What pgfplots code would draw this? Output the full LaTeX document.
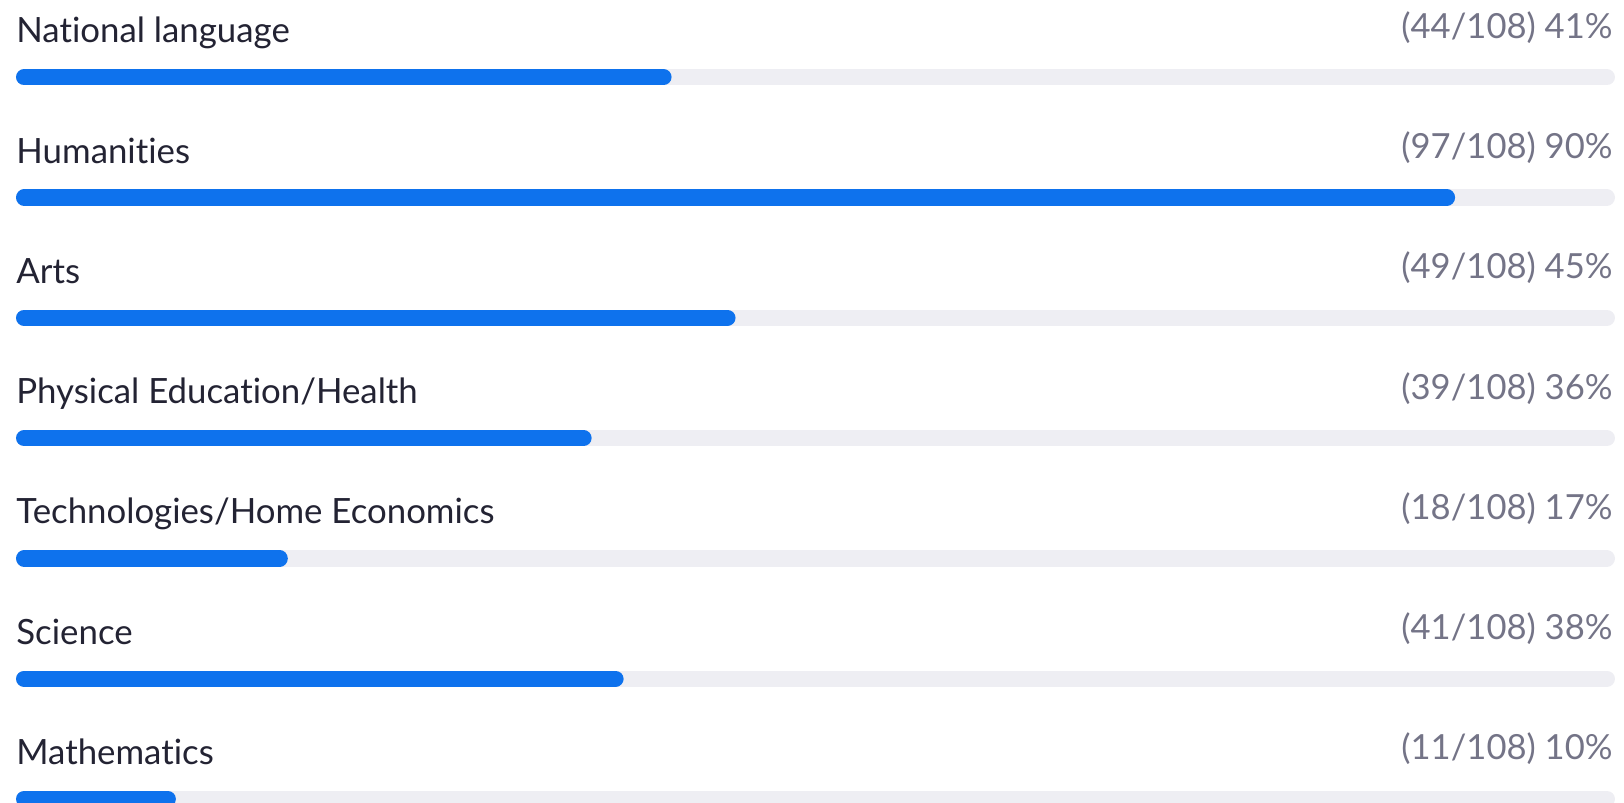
\documentclass[border=0pt]{standalone}
\usepackage{pgfplots}
\usepackage{pgfplotstable}
\pgfplotsset{compat=1.18}
\usepackage{fontspec}
\setmainfont[Ligatures={NoCommon}]{Lato}
\definecolor{zblue}{HTML}{0E72ED}
\definecolor{ztrack}{HTML}{EEEEF3}
\definecolor{zlabel}{HTML}{232333}
\definecolor{zvalue}{HTML}{747487}

\pgfplotstableread[col sep=comma]{
y,n,pct,total,label,txt
76.7,44,41,100,National language,(44/108) 41\%
197.0,97,90,100,Humanities,(97/108) 90\%
317.3,49,45,100,Arts,(49/108) 45\%
437.6,39,36,100,Physical Education/Health,(39/108) 36\%
557.9,18,17,100,Technologies/Home Economics,(18/108) 17\%
678.2,41,38,100,Science,(41/108) 38\%
798.5,11,10,100,Mathematics,(11/108) 10\%
}\data

\begin{document}
\begin{tikzpicture}
\begin{axis}[
  scale only axis,
  width=812pt, height=401.5pt,
  hide axis,
  xmin=-1.0006, xmax=100.563,
  ymin=0, ymax=803, y dir=reverse,
  clip=true,
  track/.style={ztrack, line width=8.1pt, line cap=round, shorten <=4.05pt, shorten >=4.05pt, mark=none},
  fill/.style={zblue, line width=8.1pt, line cap=round, shorten <=4.05pt, shorten >=4.05pt, mark=none},
]
\addplot[track] coordinates {(0,77.2) (100,77.2)};
\addplot[fill]  coordinates {(0,77.2) (41,77.2)};
\addplot[track] coordinates {(0,197.5) (100,197.5)};
\addplot[fill]  coordinates {(0,197.5) (90,197.5)};
\addplot[track] coordinates {(0,317.8) (100,317.8)};
\addplot[fill]  coordinates {(0,317.8) (45,317.8)};
\addplot[track] coordinates {(0,438.1) (100,438.1)};
\addplot[fill]  coordinates {(0,438.1) (36,438.1)};
\addplot[track] coordinates {(0,558.4) (100,558.4)};
\addplot[fill]  coordinates {(0,558.4) (17,558.4)};
\addplot[track] coordinates {(0,678.7) (100,678.7)};
\addplot[fill]  coordinates {(0,678.7) (38,678.7)};
\addplot[track] coordinates {(0,799.0) (100,799.0)};
\addplot[fill]  coordinates {(0,799.0) (10,799.0)};

\addplot[only marks, mark=none, point meta=explicit symbolic,
  nodes near coords,
  every node near coord/.append style={anchor=base west, inner sep=0pt, yshift=17pt,
    font=\fontsize{17.4}{20}\selectfont, text=zlabel}]
  table[x expr=0, y=y, meta=label]{\data};

\addplot[only marks, mark=none,
  point meta=explicit symbolic,
  nodes near coords,
  every node near coord/.append style={anchor=base east, inner sep=0pt, yshift=19.3pt, xshift=-1pt,
    font=\fontsize{17.3}{20}\selectfont, text=zvalue}]
  table[x=total, y=y, meta=txt]{\data};
\end{axis}
\pgfresetboundingbox
\path[use as bounding box] (0,0) rectangle (812pt,401.5pt);
\end{tikzpicture}
\end{document}
